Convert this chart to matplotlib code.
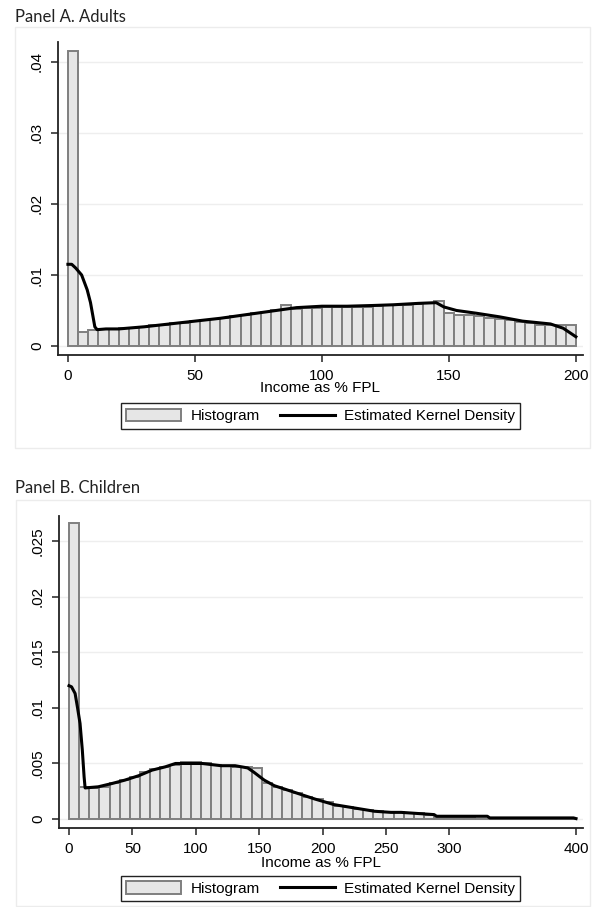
import numpy as np
import matplotlib.pyplot as plt
from matplotlib.patches import Rectangle, Patch
from matplotlib.lines import Line2D

# Panel A: adults, histogram of income as % FPL (50 bins of width 4 over 0-200)
adult_bin_width = 4
adult_hist = [
    0.0416, 0.0020, 0.0023, 0.0024, 0.0024, 0.0025, 0.0026, 0.0027, 0.0029, 0.0030,
    0.0032, 0.0033, 0.0035, 0.0037, 0.0038, 0.0040, 0.0042, 0.0044, 0.0046, 0.0048,
    0.0051, 0.0058, 0.0052, 0.0053, 0.0054, 0.0055, 0.0055, 0.0055, 0.0055, 0.0055,
    0.0056, 0.0058, 0.0058, 0.0058, 0.0059, 0.0060, 0.0064, 0.0047, 0.0044, 0.0043,
    0.0042, 0.0040, 0.0038, 0.0037, 0.0034, 0.0032, 0.0030, 0.0029, 0.0030, 0.0030,
]
adult_kde_x = [0, 1.5, 3, 5.4, 7.6, 8.9, 10.6, 11.5, 15, 20, 30, 40, 50, 60, 70, 80,
               86, 90, 100, 110, 120, 128, 138, 145, 148, 153, 161, 170, 179, 190, 195, 200]
adult_kde_y = [0.0115, 0.0115, 0.0110, 0.0100, 0.0079, 0.0061, 0.0027, 0.0023, 0.0024,
               0.0024, 0.0027, 0.0031, 0.0035, 0.0039, 0.0044, 0.0049, 0.0052, 0.0054,
               0.0056, 0.0056, 0.0057, 0.0058, 0.0060, 0.0061, 0.0055, 0.0050, 0.0046,
               0.0041, 0.0035, 0.0031, 0.0025, 0.0013]

# Panel B: children (50 bins of width 8 over 0-400)
child_bin_width = 8
child_hist = [
    0.0266, 0.0029, 0.0028, 0.0029, 0.0032, 0.0035, 0.0038, 0.0042, 0.0045, 0.0047,
    0.0049, 0.0051, 0.0051, 0.0050, 0.0049, 0.0048, 0.0047, 0.0047, 0.0046, 0.0032,
    0.0029, 0.0026, 0.0023, 0.0020, 0.0018, 0.0015, 0.0012, 0.0011, 0.0009, 0.0008,
    0.0007, 0.0006, 0.0006, 0.0005, 0.0005, 0.0004, 0.00005, 0.00005, 0.00005, 0.00005,
    0.00003, 0.00003, 0.00003, 0.00003, 0.00003, 0.00002, 0.00002, 0.00002, 0.00002, 0.00002,
]
child_kde_x = [0, 2, 4.8, 6.6, 8.7, 10.5, 11.9, 12.7, 23, 34, 44, 55, 65.5, 76, 84, 105,
               120, 131, 141, 146, 154, 162, 178, 194, 209, 225, 241, 254, 262, 275,
               288, 290, 330, 332, 398, 400]
child_kde_y = [0.0120, 0.0119, 0.0113, 0.0101, 0.0086, 0.0062, 0.0038, 0.0028, 0.0029,
               0.0032, 0.0035, 0.0039, 0.0044, 0.0047, 0.0050, 0.0050, 0.0048, 0.0048,
               0.0046, 0.0042, 0.0035, 0.0030, 0.0024, 0.0018, 0.0013, 0.0010, 0.0007,
               0.0006, 0.0006, 0.0005, 0.0004, 0.00025, 0.00025, 0.0001, 0.0001, 0.00004]

adult_xticks = [0, 50, 100, 150, 200]
adult_yticks = [0, 0.01, 0.02, 0.03, 0.04]
adult_ylabels = ["0", ".01", ".02", ".03", ".04"]
child_xticks = [0, 50, 100, 150, 200, 250, 300, 400]
child_yticks = [0, 0.005, 0.01, 0.015, 0.02, 0.025]
child_ylabels = ["0", ".005", ".01", ".015", ".02", ".025"]

W, H = 597, 907
fig = plt.figure(figsize=(W / 100, H / 100), dpi=100)
fig.patch.set_facecolor("white")

BAR_FACE = "#e6e6e6"
BAR_EDGE = "#7f7f7f"
TICK_FONT = "Liberation Sans"


def px_rect(left, top, right, bottom):
    return [left / W, 1 - bottom / H, (right - left) / W, (bottom - top) / H]


def draw_panel(title, title_y, box, ax_box, xlim, ylim, hist, width, kx, ky,
               xticks, yticks, ylabels, legend_y, xlabel_pad):
    # light outer graph region
    l, t, r, b = box
    fig.patches.append(Rectangle((l / W, 1 - b / H), (r - l) / W, (b - t) / H,
                                 transform=fig.transFigure, fill=False,
                                 edgecolor="#ececec", linewidth=1.0))
    fig.text(15 / W, 1 - title_y / H, title, fontsize=12, family="Lato",
             ha="left", va="baseline", color="#222222")

    ax = fig.add_axes(px_rect(*ax_box))
    edges = np.arange(len(hist)) * width
    ax.bar(edges, hist, width=width, align="edge", color=BAR_FACE,
           edgecolor=BAR_EDGE, linewidth=1.4, zorder=2)
    ax.plot(kx, ky, color="black", linewidth=2.2, zorder=3)

    ax.set_xlim(*xlim)
    ax.set_ylim(*ylim)
    ax.set_xticks(xticks)
    ax.set_xticklabels([str(v) for v in xticks], fontsize=11, family=TICK_FONT)
    ax.set_yticks(yticks)
    ax.set_yticklabels(ylabels, fontsize=11, family=TICK_FONT, rotation=90, va="center")
    ax.yaxis.grid(True, color="#eeeeee", linewidth=1.0, zorder=0)
    ax.set_axisbelow(True)
    for side in ("top", "right"):
        ax.spines[side].set_visible(False)
    for side in ("left", "bottom"):
        ax.spines[side].set_color("#222222")
        ax.spines[side].set_linewidth(1.3)
    ax.tick_params(direction="out", length=5, width=1.1, color="#222222", pad=5)
    ax.set_xlabel("Income as % FPL", fontsize=11, family=TICK_FONT, labelpad=xlabel_pad)

    handles = [Patch(facecolor=BAR_FACE, edgecolor=BAR_EDGE, linewidth=1.4),
               Line2D([], [], color="black", linewidth=2.2)]
    fig.legend(handles, ["Histogram", "Estimated Kernel Density"], loc="center",
               bbox_to_anchor=(320.5 / W, 1 - legend_y / H), ncol=2, frameon=True,
               fancybox=False, edgecolor="#222222", framealpha=1,
               prop={"family": TICK_FONT, "size": 11}, handlelength=3.6,
               handleheight=0.9, handletextpad=0.6, columnspacing=1.3,
               borderpad=0.35)
    return ax


draw_panel("Panel A. Adults", 21.7, (15, 27, 590, 448), (58, 42, 583, 355),
           (-3.9, 202.8), (-0.00127, 0.0428), adult_hist, adult_bin_width,
           adult_kde_x, adult_kde_y, adult_xticks, adult_yticks, adult_ylabels,
           416, -1)
draw_panel("Panel B. Children", 492.7, (16, 500, 590, 906), (59, 515.7, 583, 827.7),
           (-7.9, 405.5), (-0.00078, 0.0273), child_hist, child_bin_width,
           child_kde_x, child_kde_y, child_xticks, child_yticks, child_ylabels,
           888.5, 0)

fig.savefig("out.png", dpi=100)
